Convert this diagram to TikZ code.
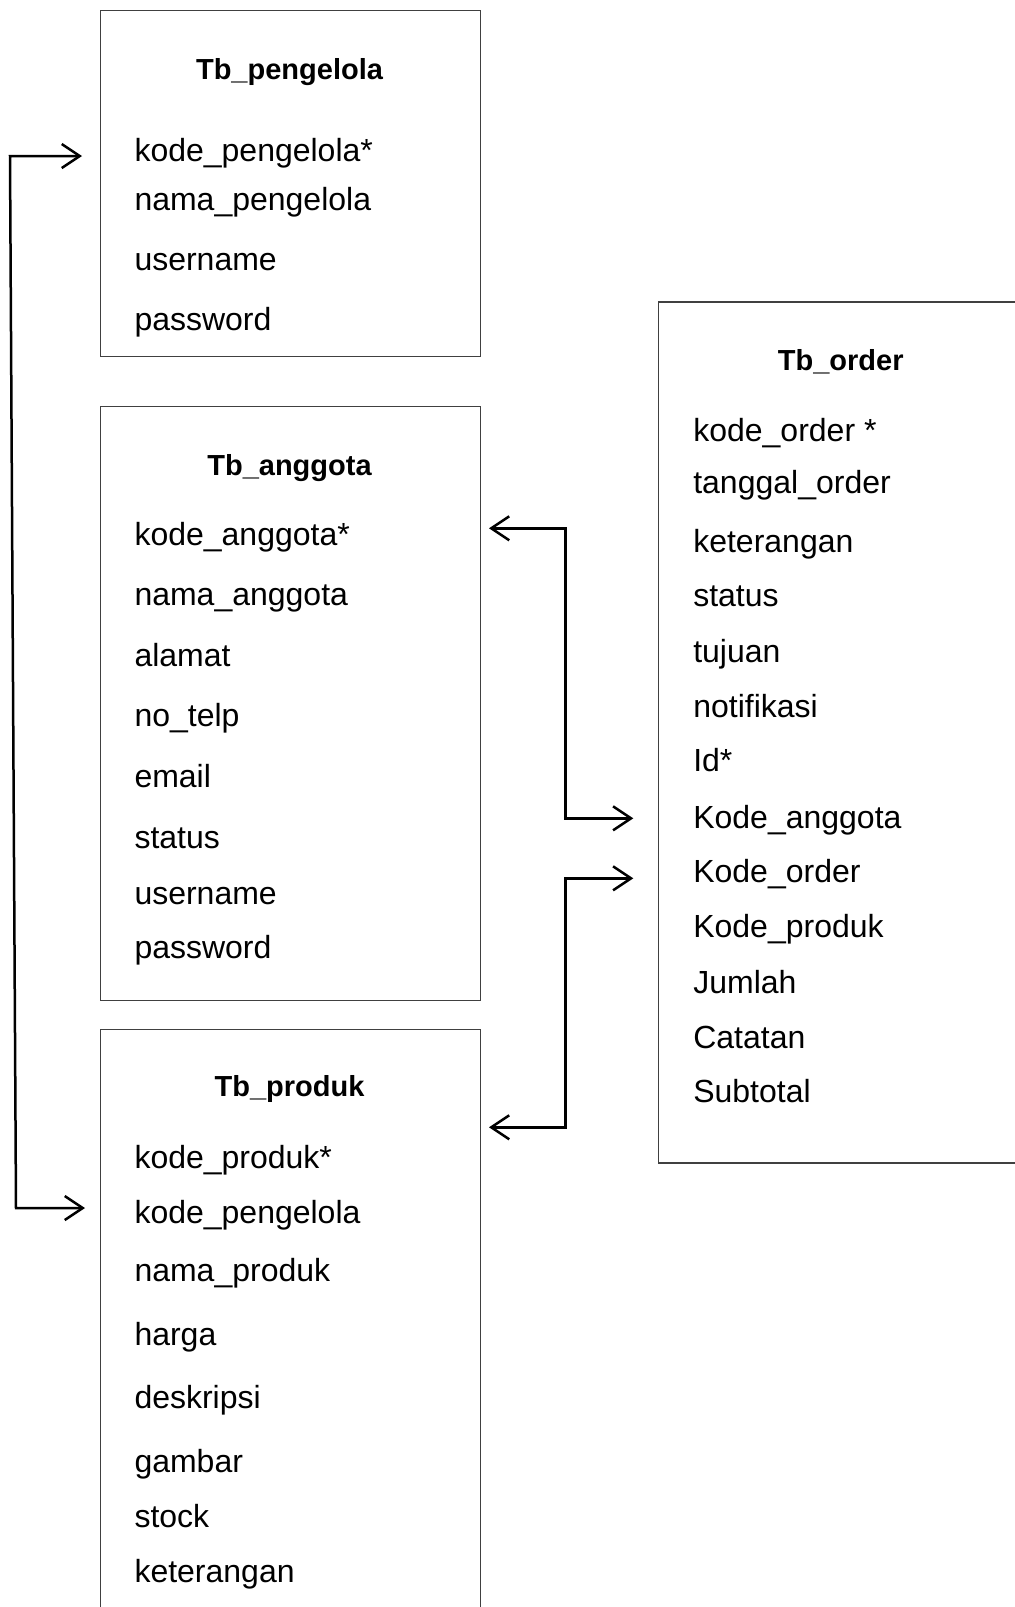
\documentclass[tikz,border=0pt]{standalone}
\usepackage{fontspec}
\setmainfont{Liberation Sans}
\usetikzlibrary{arrows.meta}
\begin{document}
\begin{tikzpicture}[x=1pt,y=-1pt,
  tablebox/.style={draw=black!75, line width=1.3pt, anchor=north west, inner sep=0pt},
  field/.style={anchor=base west, inner sep=0pt, yshift=-2.5pt, font=\fontsize{32}{38}\selectfont},
  title/.style={anchor=base, inner sep=0pt, yshift=-2pt, font=\fontsize{29}{35}\selectfont\bfseries},
  barb/.tip={Straight Barb[length=18pt,width=24pt,line width=2.5pt]},
  link/.style={line width=2.5pt, barb-barb}]
\useasboundingbox (0,0) rectangle (1015,1607);
\clip (0,0) rectangle (1015,1607);

% table frames
\node[tablebox, minimum width=380pt, minimum height=346pt] (pengelola) at (99.5,10) {};
\node[tablebox, minimum width=380pt, minimum height=594pt] (anggota) at (99.5,406) {};
\node[tablebox, minimum width=380pt, minimum height=600pt] (produk) at (99.5,1028.5) {};
\node[tablebox, minimum width=380pt, minimum height=861pt] (order) at (657.5,301.3) {};

% table titles
\node[title] (pengelola-t) at (289.5,77.7) {Tb\_pengelola};
\node[title] (anggota-t) at (289.5,473.5) {Tb\_anggota};
\node[title] (produk-t) at (289.5,1094.8) {Tb\_produk};
\node[title] (order-t) at (840.7,368.9) {Tb\_order};

% Tb_pengelola fields
\foreach \t/\y [count=\i] in {kode\_pengelola*/159.2, nama\_pengelola/208.4,
    username/267.9, password/328.4}
  \node[field] (pg-\i) at (134.3,\y) {\t};

% Tb_anggota fields
\foreach \t/\y [count=\i] in {kode\_anggota*/542.7, nama\_anggota/603.2,
    alamat/663.7, no\_telp/724.2, email/784.7, status/846.2,
    username/901.5, password/955.9}
  \node[field] (ag-\i) at (134.3,\y) {\t};

% Tb_produk fields
\foreach \t/\y [count=\i] in {kode\_produk*/1166.1, kode\_pengelola/1221.4,
    nama\_produk/1278.8, harga/1343.4, deskripsi/1406.0, gambar/1469.6,
    stock/1524.9, keterangan/1580.3}
  \node[field] (pd-\i) at (134.3,\y) {\t};

% Tb_order fields
\foreach \t/\y [count=\i] in {kode\_order */439.1, tanggal\_order/491.4,
    keterangan/549.9, status/604.2, tujuan/659.6, notifikasi/714.9,
    Id*/769.3, Kode\_anggota/825.7, Kode\_order/880.0, Kode\_produk/935.4,
    Jumlah/990.7, Catatan/1046.1, Subtotal/1100.4}
  \node[field] (od-\i) at (693.1,\y) {\t};

% connector ends
\coordinate (pgIn) at (82,156);
\coordinate (lTop) at (10,156);
\coordinate (lBot) at (16,1208);
\coordinate (pdIn) at (85,1208);
\coordinate (agIn) at (489,528.3);
\coordinate (rTopA) at (565.7,528.3);
\coordinate (rBotA) at (565.7,818.3);
\coordinate (odInA) at (633.3,818.3);
\coordinate (odInB) at (633.3,878.3);
\coordinate (rTopB) at (565.7,878.3);
\coordinate (rBotB) at (565.7,1127.3);
\coordinate (pdInB) at (489,1127.3);

% relations
\draw[link] (pgIn) -- (lTop) -- (lBot) -- (pdIn);
\draw[link] (agIn) -- (rTopA) -- (rBotA) -- (odInA);
\draw[link] (odInB) -- (rTopB) -- (rBotB) -- (pdInB);
\end{tikzpicture}
\end{document}
